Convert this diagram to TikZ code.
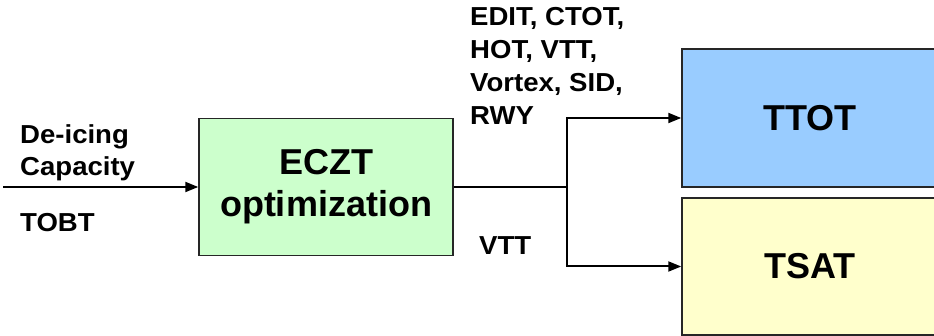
\documentclass[tikz,border=0pt]{standalone}
\usepackage{fontspec}
\setmainfont{Liberation Sans}
\newfontfamily\widesans[FakeStretch=1.06]{Liberation Sans}
\usepackage{tikz}
\usetikzlibrary{arrows.meta}

\definecolor{boxgreen}{HTML}{CCFFCC}
\definecolor{boxblue}{HTML}{99CCFF}
\definecolor{boxyellow}{HTML}{FFFFCC}

\tikzset{
	block/.style={draw=black!85, line width=1.5pt, minimum width=254pt, minimum height=137pt, inner sep=0pt, align=center, font=\fontsize{36}{42}\selectfont\bfseries},
	lbl/.style={inner sep=0pt, align=left, font=\widesans\fontsize{26}{33}\selectfont\bfseries},
	flow/.style={line width=2pt, -{Triangle[length=13pt, width=10pt]}}
}

\begin{document}
\begin{tikzpicture}[x=1pt, y=-1pt]
		\useasboundingbox (0, 0) rectangle (934, 336);
		
		\node [block, fill=boxgreen] (eczt) at (326, 187) {ECZT\\optimization}; % Optimeringen
		\node [block, fill=boxblue, minimum width=256pt, minimum height=138pt] (ttot) at (810, 118) {TTOT};
		\node [block, fill=boxyellow, minimum width=256pt] (tsat) at (810, 266.5) {TSAT};
		
		\coordinate (start) at (3, 187); % Ingången
		\coordinate (split) at (567, 187); % Förgreningen
		\draw [flow] (start) -- (eczt.west);
		\draw [line width=2pt] (eczt.east) -- (split);
		\draw [flow] (split) |- (ttot.west);
		\draw [flow] (split) |- (tsat.west);
		
		\node [lbl, anchor=north west] (deicing) at (20, 124) {De-icing\\[-1pt]Capacity};
		\node [lbl, anchor=base west] (tobt) at (20, 232) {TOBT};
		\node [lbl, anchor=north west] (params) at (470, 7.5) {EDIT, CTOT,\\HOT, VTT,\\Vortex, SID,\\RWY};
		\node [lbl, anchor=base west] (vtt) at (479, 255) {VTT};
	\end{tikzpicture}
\end{document}
